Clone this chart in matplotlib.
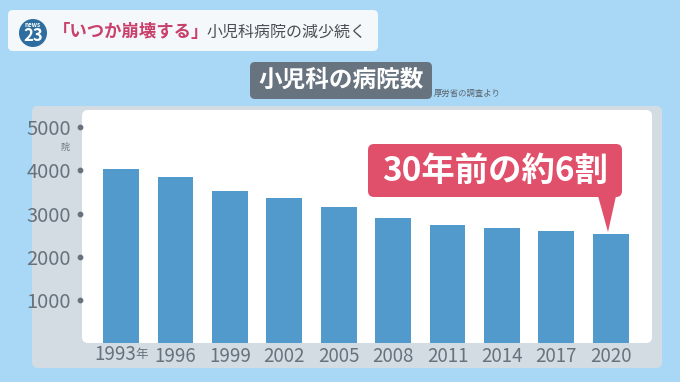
import matplotlib.pyplot as plt
from matplotlib.patches import FancyBboxPatch, Circle, Polygon
import matplotlib.transforms as mtransforms

plt.rcParams['font.family'] = ['Noto Sans CJK JP', 'DejaVu Sans']

# data
years = ['1993年', '1996', '1999', '2002', '2005', '2008', '2011', '2014', '2017', '2020']
hospitals = [4027, 3844, 3528, 3359, 3154, 2905, 2745, 2656, 2592, 2523]
yticks = [1000, 2000, 3000, 4000, 5000]

W, H = 680, 382
bg = '#a9d8f6'
bar_col = '#5299cc'
grey_txt = '#66727d'

fig = plt.figure(figsize=(W / 100, H / 100), dpi=100, facecolor=bg)

# background layer in pixel coordinates
bgax = fig.add_axes([0, 0, 1, 1], zorder=0)
bgax.set_xlim(0, W)
bgax.set_ylim(H, 0)
bgax.axis('off')

# overlay layer for the callout
topax = fig.add_axes([0, 0, 1, 1], zorder=2)
topax.set_xlim(0, W)
topax.set_ylim(H, 0)
topax.axis('off')


def rbox(a, x0, y0, x1, y1, color, r=6):
    a.add_patch(FancyBboxPatch((x0, y0), x1 - x0, y1 - y0,
                               boxstyle=f"round,pad=0,rounding_size={r}",
                               facecolor=color, edgecolor='none'))


# header strip
rbox(bgax, 8, 10, 378, 51, '#f4f8fb', r=5)
bgax.add_patch(Circle((33, 33), 14, facecolor='#2d6d9f', edgecolor='none'))
bgax.text(33, 24.5, 'news', color='white', fontsize=4.5, ha='center',
          va='center', fontweight='bold')
bgax.text(33, 36, '23', color='white', fontsize=12, ha='center',
          va='center', fontweight='bold')
bgax.text(53, 32, '「いつか崩壊する」', color='#c9416b', fontsize=12.5,
          fontweight='bold', va='center', ha='left')
bgax.text(207, 32, '小児科病院の減少続く', color='#4a4f55', fontsize=11.5,
          va='center', ha='left')

# chart title
rbox(bgax, 250, 62, 432, 99, '#67737f', r=5)
bgax.text(341, 80, '小児科の病院数', color='white', fontsize=17,
          fontweight='bold', ha='center', va='center')
bgax.text(434, 93, '厚労省の調査より', color='#5a646d', fontsize=6,
          ha='left', va='center')

# grey panel + white plot area
rbox(bgax, 32, 106, 662, 368, '#d3dce2', r=6)
rbox(bgax, 82, 110, 652, 343, 'white', r=6)

ax = fig.add_axes([82 / W, 1 - 343 / H, (652 - 82) / W, (343 - 110) / H], zorder=1)
ax.set_facecolor('none')
x = list(range(len(years)))
ax.bar(x, hospitals, width=0.66, color=bar_col, zorder=2)
ax.set_xlim(-0.72, 9.76)
ax.set_ylim(0, 5400)
for s in ax.spines.values():
    s.set_visible(False)

ax.set_yticks(yticks)
ax.set_yticklabels([str(v) for v in yticks], color=grey_txt, fontsize=14.5)
ax.tick_params(axis='y', length=0, pad=8)

# year labels: the first one carries a smaller 年
xlab = [y.replace('年', '') for y in years]
xlab[0] = ''
ax.set_xticks(x)
ax.set_xticklabels(xlab, color=grey_txt, fontsize=13.5)
ax.tick_params(axis='x', length=0, pad=2)
xtrans = mtransforms.blended_transform_factory(ax.transData, ax.transAxes)
ax.text(x[0] + 0.27, -0.004, years[0].replace('年', ''), transform=xtrans,
        color=grey_txt, fontsize=13.5, ha='right', va='top')
ax.text(x[0] + 0.27, -0.022, '年', transform=xtrans, color=grey_txt,
        fontsize=9, ha='left', va='top')

trans = mtransforms.blended_transform_factory(ax.transAxes, ax.transData)
ax.scatter([-0.003] * len(yticks), yticks, s=10, color=grey_txt, transform=trans,
           clip_on=False, zorder=3)
ax.text(-0.022, 4540, '院', transform=trans, color=grey_txt, fontsize=6.5,
        ha='right', va='center')

# callout
rbox(topax, 368, 144, 622, 197, '#e0506b', r=6)
topax.add_patch(Polygon([(598, 196), (616, 196), (608, 232)], closed=True,
                        facecolor='#e0506b', edgecolor='none'))
topax.text(495, 171, '30年前の約6割', color='white', fontsize=24,
           fontweight='bold', ha='center', va='center')

fig.savefig('out.png', dpi=100, facecolor=bg)
